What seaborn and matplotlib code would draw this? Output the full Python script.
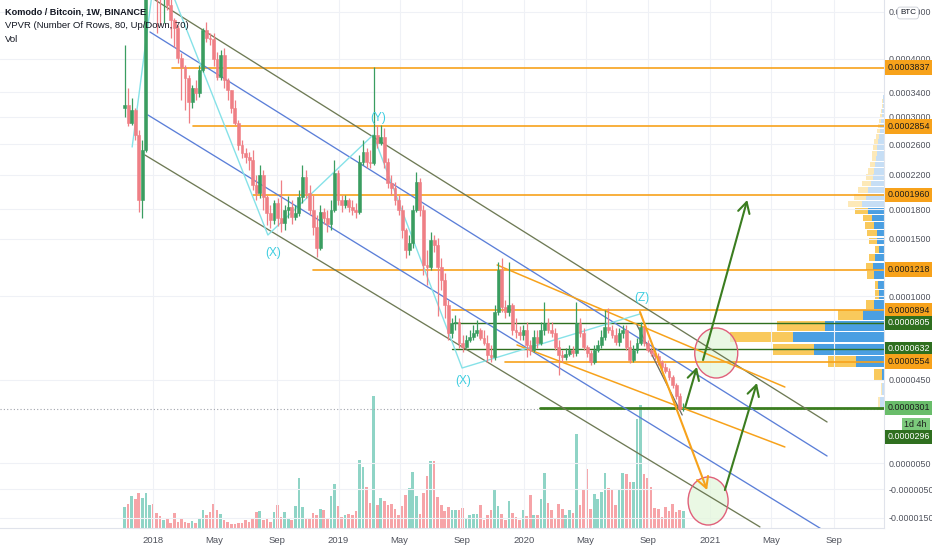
import numpy as np
import pandas as pd
import matplotlib
matplotlib.use("Agg")
import matplotlib.pyplot as plt
import matplotlib.dates as mdates
import matplotlib.patches as mpatches
import matplotlib.transforms as mtransforms
import seaborn as sns

sns.set_theme(style="white")
plt.rcParams['font.family'] = ['Liberation Sans', 'DejaVu Sans']

SAT = 1e-8
# ---------------- weekly candles (prices in satoshi) ----------------
first_week = "2017-11-06"
opens = [31390, 31870, 29060, 31060, 27290, 19010, 25190, 62000, 66000, 58000,
         55000, 54000, 55500, 51600, 48125, 46365, 40200, 38490, 36470, 32360,
         34710, 33860, 37920, 45925, 44230, 44020, 40000, 36650, 40790, 36110,
         34360, 31390, 29060, 25880, 24790, 24250, 23850, 20740, 19810, 21950,
         19350, 17590, 16850, 18680, 17070, 16550, 17910, 18240, 17170, 17590,
         19350, 21710, 19810, 17910, 16140, 14100, 17700, 17070, 16450, 17910,
         22200, 19010, 18460, 19010, 18240, 17910, 17700, 23600, 24920, 23600,
         23470, 27290, 26160, 27000, 23600, 20980, 20390, 19010, 17910, 15840,
         13920, 14580, 17910, 21100, 17910, 12580, 12400, 14860, 14390, 12400,
         11300, 9340, 7360, 8050, 8110, 6710, 6450, 6900, 7100, 7360,
         7560, 7030, 6710, 5950, 5830, 8830, 12140, 9200, 8830, 9340,
         7560, 7430, 7230, 7560, 6580, 6260, 7100, 6710, 7560, 8050,
         7560, 7360, 6450, 5950, 5830, 6010, 6260, 6070, 8050, 7360,
         6450, 6070, 5520, 6260, 6580, 7100, 7770, 7560, 7230, 6770,
         7360, 7560, 6450, 5640, 6260, 6710, 7770, 6710, 6260, 6070,
         5890, 5520, 5230, 4990, 4650, 4200, 3610, 2950]
highs = [42790, 34710, 33020, 31390, 28010, 26570, 78000, 72000, 70000, 61000,
         58000, 57000, 56500, 54000, 48580, 47025, 41180, 38860, 37010, 35230,
         36110, 38860, 46365, 47690, 45290, 45290, 41370, 41765, 42170, 36470,
         34360, 32680, 29510, 26570, 25460, 24920, 25190, 21950, 23210, 22570,
         19580, 18460, 19010, 19240, 21340, 18460, 19470, 19010, 18460, 20150,
         23210, 22570, 20740, 19580, 17380, 18460, 18130, 17910, 19010, 23850,
         22570, 19580, 19580, 19240, 19010, 18680, 24520, 26570, 25460, 25190,
         38490, 28760, 28760, 28310, 24120, 21950, 21100, 19580, 18460, 16040,
         15350, 18460, 22330, 21580, 18460, 13920, 15640, 15350, 15050, 13190,
         11890, 9720, 8400, 8610, 8400, 7230, 7230, 7560, 7910, 8250,
         7700, 7560, 7230, 6580, 9340, 12840, 13190, 9720, 12840, 9490,
         8400, 7840, 7910, 8110, 6900, 7560, 7560, 8110, 9570, 8400,
         8110, 7700, 6900, 6260, 6380, 6580, 6510, 9570, 8400, 7700,
         6580, 6260, 6580, 6900, 7560, 8970, 9120, 7910, 7700, 7700,
         7910, 7910, 6900, 6580, 7030, 8110, 8110, 6900, 6450, 6260,
         6070, 5640, 5460, 5170, 4760, 4310, 3770, 3250]
lows = [29980, 28610, 28760, 26570, 17700, 17070, 24900, 57000, 55000, 45290,
        47025, 47500, 50415, 44230, 42380, 39240, 32680, 31060, 29060, 31390,
        32680, 33180, 37560, 43400, 42790, 38670, 36110, 36110, 34710, 32680,
        30600, 28760, 25190, 24120, 23470, 22570, 20150, 19010, 19240, 17910,
        16340, 16040, 16450, 16240, 15640, 15840, 17070, 16450, 16850, 17280,
        18680, 19240, 17380, 15350, 13280, 13920, 16450, 15640, 15840, 17700,
        18460, 17700, 18130, 17700, 17380, 17070, 17490, 23210, 22830, 22830,
        23210, 25460, 25880, 22830, 20390, 19580, 18460, 17380, 15050, 13190,
        13460, 14100, 17700, 17280, 11720, 10900, 12140, 13740, 8540, 10490,
        8400, 6900, 7030, 7560, 6380, 6130, 6380, 6770, 6900, 7165,
        6900, 6580, 5520, 5520, 5640, 8610, 8830, 8400, 8540, 7230,
        7030, 6900, 6900, 5830, 5950, 6130, 6380, 6580, 7230, 7360,
        7100, 6260, 4760, 5520, 5640, 5890, 5830, 5890, 7100, 6260,
        5830, 5340, 5400, 6130, 6380, 6900, 7360, 7030, 6580, 6510,
        7030, 6260, 5460, 5520, 6070, 6580, 6510, 6130, 5890, 5640,
        5340, 5050, 4880, 4480, 4040, 3450, 2880, 2850]
closes = [31880, 29060, 31060, 27290, 19010, 25190, 62000, 66000, 58000, 55000,
          54000, 55500, 51600, 48125, 46365, 40200, 38490, 36470, 32360, 34710,
          33860, 37920, 45925, 44230, 44020, 40000, 36650, 40790, 36110, 34360,
          31390, 29060, 25880, 24790, 24250, 23850, 20740, 19810, 21950, 19350,
          17590, 16850, 18680, 17070, 16550, 17910, 18240, 17170, 17590, 19350,
          21710, 19810, 17910, 16140, 14100, 17700, 17070, 16450, 17910, 22200,
          19010, 18460, 19010, 18240, 17910, 17700, 23600, 24920, 23600, 23470,
          27290, 26160, 27000, 23600, 20980, 20390, 19010, 17910, 15840, 13920,
          14580, 17910, 21100, 17910, 12580, 12400, 14860, 14390, 12400, 11300,
          9340, 7360, 8050, 8110, 6710, 6450, 6900, 7100, 7360, 7560,
          7030, 6710, 5950, 5830, 8830, 12140, 9200, 8830, 9340, 7560,
          7430, 7230, 7560, 6580, 6260, 7100, 6710, 7560, 8050, 7560,
          7360, 6450, 5950, 5830, 6010, 6260, 6070, 8050, 7360, 6450,
          6070, 5520, 6260, 6580, 7100, 7770, 7560, 7230, 6770, 7360,
          7560, 6450, 5640, 6260, 6710, 7770, 6710, 6260, 6070, 5890,
          5520, 5230, 4990, 4650, 4200, 3610, 2950, 2960]
volumes = [21, 24, 32, 29, 35, 30, 35, 23, 24, 15,
           12, 8, 9, 5, 15, 6, 9, 6, 5, 7,
           5, 10, 18, 13, 16, 24, 18, 14, 8, 6,
           4, 4, 5, 5, 8, 6, 9, 16, 17, 8,
           9, 6, 16, 23, 11, 16, 10, 8, 22, 50,
           21, 10, 9, 15, 13, 19, 18, 10, 32, 44,
           22, 11, 13, 14, 13, 17, 68, 61, 41, 25,
           132, 23, 30, 27, 23, 24, 19, 13, 22, 33,
           40, 56, 32, 14, 35, 52, 67, 67, 31, 23,
           17, 21, 18, 18, 18, 20, 10, 13, 14, 14,
           23, 8, 13, 18, 38, 22, 14, 8, 27, 15,
           11, 8, 18, 12, 33, 13, 13, 29, 55, 25,
           18, 10, 24, 19, 13, 18, 15, 94, 23, 39,
           59, 19, 34, 29, 36, 55, 40, 38, 23, 38,
           55, 54, 46, 46, 109, 123, 54, 50, 41, 20,
           19, 11, 21, 17, 24, 16, 18, 17]

# ---------------- volume profile (VPVR, 80 rows; rows above 39 empty) ----------------
vp_low_sat = 2830
vp_step_sat = 770
vp_up = [4, 2, 2, 28, 70, 91, 59, 21, 10, 5, 6, 10, 11, 9, 5, 7, 7, 10, 12, 16,
         22, 18, 16, 13, 11, 10, 9, 8, 7, 7, 6, 5, 4, 4, 3, 2, 2, 1, 1, 1]
vp_down = [2, 1, 8, 28, 41, 63, 48, 25, 8, 4, 3, 7, 7, 6, 4, 8, 10, 9, 9, 13,
           14, 12, 10, 9, 7, 6, 5, 4, 5, 4, 4, 3, 3, 2, 2, 2, 1, 1, 1, 0]
va_rows = (2, 19)

# ---------------- axis ticks ----------------
y_ticks = [0.0005, 0.0004, 0.00034, 0.0003, 0.00026, 0.00022, 0.00018, 0.00015,
           0.0001, 0.000045, 0.000005, -0.000005, -0.000015]
y_tick_labels = ["0.0005000", "0.0004000", "0.0003400", "0.0003000", "0.0002600",
                 "0.0002200", "0.0001800", "0.0001500", "0.0001000", "0.0000450",
                 "0.0000050", "-0.0000050", "-0.0000150"]
x_tick_dates = ["2018-01-01", "2018-05-01", "2018-09-01", "2019-01-01", "2019-05-01",
                "2019-09-01", "2020-01-01", "2020-05-01", "2020-09-01", "2021-01-01",
                "2021-05-01", "2021-09-01"]
x_tick_labels = ["2018", "May", "Sep", "2019", "May", "Sep", "2020", "May", "Sep",
                 "2021", "May", "Sep"]

# ---------------- drawings ----------------
level_prices = [0.0003837, 0.0002854, 0.0001960, 0.0001218, 0.0000894, 0.0000554]
level_starts = ["2018-02-07", "2018-03-21", "2018-07-17", "2018-11-12", "2019-08-12", "2019-11-24"]
green_levels = [0.0000805, 0.0000632]
green_starts = ["2019-08-12", "2019-08-12"]
support_level = 0.0000301
support_start = "2020-02-01"

trend_lines = [  # (start date, start price, end date, end price, kind)
    ("2018-01-05", 0.0005279, "2021-08-19", 0.00002311, "olive"),
    ("2017-12-26", 0.00045494, "2021-08-19", 0.00000796, "blue"),
    ("2017-12-22", 0.00030279, "2021-08-11", -0.00001887, "blue"),
    ("2017-12-16", 0.00024514, "2021-04-09", -0.00001790, "olive"),
    ("2019-11-09", 0.00012571, "2021-05-28", 0.00004091, "orange"),
    ("2019-12-18", 0.00006574, "2021-05-28", 0.00001179, "orange"),
    ("2020-08-10", 0.00007904, "2020-11-07", 0.00002649, "gray"),
]
wave_dates = ["2017-11-21", "2018-01-09", "2018-08-15", "2019-03-10", "2019-09-01", "2020-08-16"]
wave_prices = [0.00025597, 0.00064705, 0.00015342, 0.00027286, 0.00005165, 0.00008681]
wave_labels = ["(X)", "(Y)", "(X)", "(Z)"]
wave_label_dates = ["2018-08-25", "2019-03-19", "2019-09-03", "2020-08-20"]
wave_label_prices = [0.00013642, 0.00029815, 0.00004422, 0.00009871]
arrows = [  # (from date, from price, to date, to price, kind)
    ("2020-12-18", 0.00005640, "2021-03-15", 0.00019010, "green"),
    ("2020-11-13", 0.00003045, "2020-12-06", 0.00005224, "green"),
    ("2021-01-30", -0.00000533, "2021-04-03", 0.00004311, "green"),
    ("2020-08-16", 0.00008826, "2020-12-26", -0.00000533, "orange"),
]
circle_dates = ["2021-01-13", "2020-12-28"]
circle_prices = [0.00006068, -0.00000926]

price_labels = [  # (price, text, kind)
    (0.0003837, "0.0003837", "orange"),
    (0.0002854, "0.0002854", "orange"),
    (0.0001960, "0.0001960", "orange"),
    (0.0001218, "0.0001218", "orange"),
    (0.0000894, "0.0000894", "orange"),
    (0.0000805, "0.0000805", "dgreen"),
    (0.0000632, "0.0000632", "dgreen"),
    (0.0000554, "0.0000554", "orange"),
    (0.0000301, "0.0000301", "lgreen"),
]
last_price_text = "0.0000296"
countdown_text = "1d 4h"

# ---------------- styles ----------------
UP, DN = "#3a9d60", "#ef7f85"
VUP, VDN = "#8fd4c6", "#f6a4a8"
COL = {"orange": "#f7a21b", "blue": "#5b7fd8", "olive": "#6e7a55", "gray": "#6b6b63",
       "green": "#3b7d20", "dgreen": "#2f6f1f", "lgreen": "#69bd6a", "cyan": "#86e2e8"}
AXFS = 6.4

OFF = 1e-4
def fwd(v):
    return np.log(np.clip(np.asarray(v, dtype=float) + OFF, 1e-12, None))
def inv(y):
    return np.exp(np.asarray(y, dtype=float)) - OFF

def dn(s):
    return mdates.date2num(pd.Timestamp(s))

W, H = 932, 550
fig = plt.figure(figsize=(W / 100, H / 100), dpi=100)
fig.patch.set_facecolor("white")
rect = [0, (H - 528) / H, 884 / W, 528 / H]

ax_vol = fig.add_axes(rect)
ax_vol.set_zorder(0)
ax = fig.add_axes(rect, sharex=ax_vol)
ax.set_zorder(2)
ax.patch.set_alpha(0)
ax.set_yscale("function", functions=(fwd, inv))
ax_vp = fig.add_axes(rect, sharey=ax)
ax_vp.set_zorder(1)

dates = pd.date_range(first_week, periods=len(closes), freq="7D")
xs = mdates.date2num(dates)
o = np.array(opens) * SAT
h = np.array(highs) * SAT
l = np.array(lows) * SAT
c = np.array(closes) * SAT
up = c >= o
cols = np.where(up, UP, DN)

# volume (seaborn)
vol_df = pd.DataFrame({"x": xs, "vol": volumes, "dir": np.where(up, "up", "down")})
sns.barplot(data=vol_df, x="x", y="vol", hue="dir", palette={"up": VUP, "down": VDN},
            native_scale=True, dodge=False, width=0.74, errorbar=None, legend=False,
            saturation=1, linewidth=0, ax=ax_vol)
ax_vol.set_ylim(0, max(volumes) * 4.0)
ax_vol.axis("off")

# volume profile
idx = np.arange(len(vp_up))
vp_bottom = (vp_low_sat + idx * vp_step_sat + 0.07 * vp_step_sat) * SAT
vp_h = 0.86 * vp_step_sat * SAT
in_va = (idx >= va_rows[0]) & (idx <= va_rows[1])
blue_c = np.where(in_va, "#4a9fe2", "#c6def5")
yel_c = np.where(in_va, "#f9c95c", "#fde9b8")
ax_vp.barh(vp_bottom, vp_up, height=vp_h, align="edge", color=blue_c, linewidth=0)
ax_vp.barh(vp_bottom, vp_down, left=vp_up, height=vp_h, align="edge", color=yel_c, linewidth=0)
vp_max = max(np.array(vp_up) + np.array(vp_down))
ax_vp.set_xlim(vp_max / 0.174, 0)
ax_vp.axis("off")

# candles
ax.vlines(xs, l, h, colors=cols, linewidth=0.9, zorder=5)
body_lo = np.minimum(o, c)
body_h = np.abs(c - o)
ax.bar(xs, body_h, bottom=body_lo, width=5.6, color=cols, edgecolor=cols,
       linewidth=0.4, zorder=6)

x_right = dn("2021-12-09")
# price line (dotted)
ax.axhline(closes[-1] * SAT, color="#a0a3ab", lw=0.8, ls=(0, (1, 2)), zorder=2)

# horizontal levels
for p, s in zip(level_prices, level_starts):
    ax.plot([dn(s), x_right + 50], [p, p], color=COL["orange"], lw=1.2, zorder=3)
for p, s in zip(green_levels, green_starts):
    ax.plot([dn(s), x_right + 50], [p, p], color=COL["dgreen"], lw=1.0, zorder=3)
ax.plot([dn(support_start), x_right + 50], [support_level, support_level],
        color=COL["green"], lw=2.0, zorder=3)

# trend channels
for d0, p0, d1, p1, kind in trend_lines:
    ax.plot([dn(d0), dn(d1)], [p0, p1], color=COL[kind], lw=0.95 if kind != "orange" else 1.1,
            zorder=3)

# wave zigzag
ax.plot([dn(d) for d in wave_dates], wave_prices, color=COL["cyan"], lw=1.0, zorder=4)
for t, d, p in zip(wave_labels, wave_label_dates, wave_label_prices):
    ax.text(dn(d), p, t, color="#3ccde0", fontsize=8.5, ha="center", va="center", zorder=8)

# circles (pixel-sized ellipses anchored at data points)
for d, p, (ew, eh) in zip(circle_dates, circle_prices, [(43, 50), (40, 48)]):
    tr = mtransforms.ScaledTranslation(dn(d), p, ax.transData)
    e = mpatches.Ellipse((0, 0), ew, eh, transform=tr, facecolor="#e4f6dc", alpha=0.75,
                         edgecolor="none", zorder=2)
    ax.add_patch(e)
    e2 = mpatches.Ellipse((0, 0), ew, eh, transform=tr, facecolor="none",
                          edgecolor="#e0607a", lw=1.0, zorder=7)
    ax.add_patch(e2)

# arrows
for d0, p0, d1, p1, kind in arrows:
    ax.annotate("", xy=(dn(d1), p1), xytext=(dn(d0), p0),
                arrowprops=dict(arrowstyle="->,head_length=0.55,head_width=0.3",
                                color=COL[kind], lw=1.5, shrinkA=0, shrinkB=0,
                                mutation_scale=14), zorder=8)

# axes styling
ax.set_xlim(dn("2017-03-06"), x_right)
ax.set_ylim(-0.00001824, 0.0005279)
ax.yaxis.tick_right()
ax.set_yticks(y_ticks)
ax.set_yticklabels(y_tick_labels)
ax.set_xticks([dn(d) for d in x_tick_dates])
ax.set_xticklabels(x_tick_labels)
ax.tick_params(axis="y", length=0, pad=3, labelsize=AXFS, colors="#4f525c")
ax.tick_params(axis="x", length=0, pad=5.5, labelsize=6.8, colors="#4f525c")
ax.grid(True, color="#eff1f6", lw=0.8)
ax.set_axisbelow(True)
for s in ["top", "left"]:
    ax.spines[s].set_visible(False)
for s in ["right", "bottom"]:
    ax.spines[s].set_color("#e0e3eb")
    ax.spines[s].set_linewidth(0.8)
ax.set_xlabel("")
ax.set_ylabel("")

# price labels on the axis
trans = mtransforms.blended_transform_factory(ax.transAxes, ax.transData)
box_fc = {"orange": COL["orange"], "dgreen": COL["dgreen"], "lgreen": COL["lgreen"]}
box_tc = {"orange": "#1c1c1c", "dgreen": "white", "lgreen": "#1c1c1c"}
for p, t, kind in price_labels:
    ax.annotate(t, xy=(1.0, p), xycoords=trans, xytext=(4, 0), textcoords="offset pixels",
                ha="left", va="center", fontsize=AXFS, color=box_tc[kind], zorder=20,
                annotation_clip=False,
                bbox=dict(boxstyle="square,pad=0.3", fc=box_fc[kind], ec="none"))
last_p = closes[-1] * SAT
ax.annotate(countdown_text, xy=(1.0, last_p), xycoords=trans, xytext=(43, -16),
            textcoords="offset pixels", ha="right", va="center", fontsize=AXFS, color="#1c1c1c",
            zorder=20, annotation_clip=False,
            bbox=dict(boxstyle="square,pad=0.3", fc="#7cc97c", ec="none"))
ax.annotate(last_price_text, xy=(1.0, last_p), xycoords=trans, xytext=(4, -28),
            textcoords="offset pixels", ha="left", va="center", fontsize=AXFS, color="white",
            zorder=20, annotation_clip=False,
            bbox=dict(boxstyle="square,pad=0.3", fc=COL["dgreen"], ec="none"))

# header texts
fig.text(5 / W, 1 - 12.5 / H, "Komodo / Bitcoin, 1W, BINANCE", fontsize=6.6,
         weight="bold", color="#131722", va="center", ha="left")
fig.text(5 / W, 1 - 25 / H, "VPVR (Number Of Rows, 80, Up/Down, 70)", fontsize=6.8,
         color="#131722", va="center", ha="left")
fig.text(5 / W, 1 - 39 / H, "Vol", fontsize=6.8, color="#131722", va="center", ha="left")
fig.text(908 / W, 1 - 13 / H, "BTC", fontsize=5.8, color="#131722", ha="center", va="center",
         bbox=dict(boxstyle="round,pad=0.3", fc="white", ec="#c9ccd4", lw=0.6), zorder=30)

fig.savefig("out.png", dpi=100, facecolor="white")
